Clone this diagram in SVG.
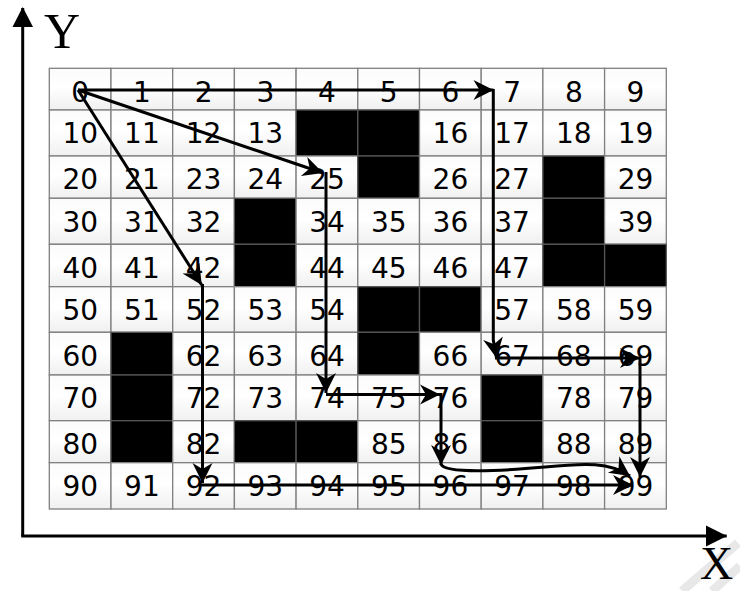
<svg xmlns="http://www.w3.org/2000/svg" width="740" height="591" viewBox="0 0 740 591">
<style>
.c{fill:url(#g);stroke:#808080;stroke-width:1.3}
.b{fill:#000;stroke:#555;stroke-width:1.3}
text{font-family:"DejaVu Sans","Liberation Sans",sans-serif;font-size:28px;fill:#000;text-anchor:middle}
.ax{stroke:#000;stroke-width:3;fill:none}
.ar{stroke:#000;stroke-width:3;fill:none;marker-end:url(#m)}
.lbl{font-family:"Liberation Serif","Times New Roman",serif;font-size:50px;text-anchor:start}
</style>
<defs>
<linearGradient id="g" x1="0" y1="0" x2="0" y2="1">
<stop offset="0" stop-color="#fbfbfb"/>
<stop offset="0.45" stop-color="#ffffff"/>
<stop offset="1" stop-color="#f0f0f0"/>
</linearGradient>
<marker id="m" viewBox="-21 -11 22 22" refX="0" refY="0" markerWidth="22" markerHeight="22" markerUnits="userSpaceOnUse" orient="auto">
<path d="M0,0 L-20,-10 L-14,0 L-20,10 Z" fill="#000"/>
</marker>
</defs>
<rect width="740" height="591" fill="#fff"/>
<g id="watermark" stroke="#e8e8e8" stroke-width="9" fill="none">
<path d="M682,591 L738,543"/>
<path d="M712,591 L740,566"/>
</g>
<g id="axes">
<path class="ax" d="M22.7,536 L22.7,8"/>
<path class="ax" d="M21.2,536 L726.7,536"/>
<path d="M22.7,7 L12.5,27 L33,27 Z" fill="#000"/>
<path d="M727,536 L706,525.5 L706,546.5 Z" fill="#000"/>
<text class="lbl" x="44" y="48">Y</text>
<text class="lbl" x="700" y="579" style="font-size:46px">X</text>
</g>
<g id="grid">
<g id="r0c0"><rect class="c" x="49.3" y="68.3" width="61.7" height="41.7"/><text x="80.2" y="101.6">0</text></g>
<g id="r0c1"><rect class="c" x="111" y="68.3" width="61.7" height="41.7"/><text x="141.9" y="101.6">1</text></g>
<g id="r0c2"><rect class="c" x="172.7" y="68.3" width="61.7" height="41.7"/><text x="203.6" y="101.6">2</text></g>
<g id="r0c3"><rect class="c" x="234.4" y="68.3" width="61.7" height="41.7"/><text x="265.3" y="101.6">3</text></g>
<g id="r0c4"><rect class="c" x="296.1" y="68.3" width="61.7" height="41.7"/><text x="327" y="101.6">4</text></g>
<g id="r0c5"><rect class="c" x="357.8" y="68.3" width="61.7" height="41.7"/><text x="388.7" y="101.6">5</text></g>
<g id="r0c6"><rect class="c" x="419.5" y="68.3" width="61.7" height="41.7"/><text x="450.4" y="101.6">6</text></g>
<g id="r0c7"><rect class="c" x="481.2" y="68.3" width="61.7" height="41.7"/><text x="512.1" y="101.6">7</text></g>
<g id="r0c8"><rect class="c" x="542.9" y="68.3" width="61.7" height="41.7"/><text x="573.8" y="101.6">8</text></g>
<g id="r0c9"><rect class="c" x="604.6" y="68.3" width="61.7" height="41.7"/><text x="635.5" y="101.6">9</text></g>

<g id="r1c0"><rect class="c" x="49.3" y="110" width="61.7" height="46"/><text x="80.2" y="143.3">10</text></g>
<g id="r1c1"><rect class="c" x="111" y="110" width="61.7" height="46"/><text x="141.9" y="143.3">11</text></g>
<g id="r1c2"><rect class="c" x="172.7" y="110" width="61.7" height="46"/><text x="203.6" y="143.3">12</text></g>
<g id="r1c3"><rect class="c" x="234.4" y="110" width="61.7" height="46"/><text x="265.3" y="143.3">13</text></g>
<g id="r1c4"><rect class="b" x="296.1" y="110" width="61.7" height="46"/></g>
<g id="r1c5"><rect class="b" x="357.8" y="110" width="61.7" height="46"/></g>
<g id="r1c6"><rect class="c" x="419.5" y="110" width="61.7" height="46"/><text x="450.4" y="143.3">16</text></g>
<g id="r1c7"><rect class="c" x="481.2" y="110" width="61.7" height="46"/><text x="512.1" y="143.3">17</text></g>
<g id="r1c8"><rect class="c" x="542.9" y="110" width="61.7" height="46"/><text x="573.8" y="143.3">18</text></g>
<g id="r1c9"><rect class="c" x="604.6" y="110" width="61.7" height="46"/><text x="635.5" y="143.3">19</text></g>

<g id="r2c0"><rect class="c" x="49.3" y="156" width="61.7" height="42.3"/><text x="80.2" y="189.3">20</text></g>
<g id="r2c1"><rect class="c" x="111" y="156" width="61.7" height="42.3"/><text x="141.9" y="189.3">21</text></g>
<g id="r2c2"><rect class="c" x="172.7" y="156" width="61.7" height="42.3"/><text x="203.6" y="189.3">23</text></g>
<g id="r2c3"><rect class="c" x="234.4" y="156" width="61.7" height="42.3"/><text x="265.3" y="189.3">24</text></g>
<g id="r2c4"><rect class="c" x="296.1" y="156" width="61.7" height="42.3"/><text x="327" y="189.3">25</text></g>
<g id="r2c5"><rect class="b" x="357.8" y="156" width="61.7" height="42.3"/></g>
<g id="r2c6"><rect class="c" x="419.5" y="156" width="61.7" height="42.3"/><text x="450.4" y="189.3">26</text></g>
<g id="r2c7"><rect class="c" x="481.2" y="156" width="61.7" height="42.3"/><text x="512.1" y="189.3">27</text></g>
<g id="r2c8"><rect class="b" x="542.9" y="156" width="61.7" height="42.3"/></g>
<g id="r2c9"><rect class="c" x="604.6" y="156" width="61.7" height="42.3"/><text x="635.5" y="189.3">29</text></g>

<g id="r3c0"><rect class="c" x="49.3" y="198.3" width="61.7" height="46"/><text x="80.2" y="231.6">30</text></g>
<g id="r3c1"><rect class="c" x="111" y="198.3" width="61.7" height="46"/><text x="141.9" y="231.6">31</text></g>
<g id="r3c2"><rect class="c" x="172.7" y="198.3" width="61.7" height="46"/><text x="203.6" y="231.6">32</text></g>
<g id="r3c3"><rect class="b" x="234.4" y="198.3" width="61.7" height="46"/></g>
<g id="r3c4"><rect class="c" x="296.1" y="198.3" width="61.7" height="46"/><text x="327" y="231.6">34</text></g>
<g id="r3c5"><rect class="c" x="357.8" y="198.3" width="61.7" height="46"/><text x="388.7" y="231.6">35</text></g>
<g id="r3c6"><rect class="c" x="419.5" y="198.3" width="61.7" height="46"/><text x="450.4" y="231.6">36</text></g>
<g id="r3c7"><rect class="c" x="481.2" y="198.3" width="61.7" height="46"/><text x="512.1" y="231.6">37</text></g>
<g id="r3c8"><rect class="b" x="542.9" y="198.3" width="61.7" height="46"/></g>
<g id="r3c9"><rect class="c" x="604.6" y="198.3" width="61.7" height="46"/><text x="635.5" y="231.6">39</text></g>

<g id="r4c0"><rect class="c" x="49.3" y="244.3" width="61.7" height="42.4"/><text x="80.2" y="277.6">40</text></g>
<g id="r4c1"><rect class="c" x="111" y="244.3" width="61.7" height="42.4"/><text x="141.9" y="277.6">41</text></g>
<g id="r4c2"><rect class="c" x="172.7" y="244.3" width="61.7" height="42.4"/><text x="203.6" y="277.6">42</text></g>
<g id="r4c3"><rect class="b" x="234.4" y="244.3" width="61.7" height="42.4"/></g>
<g id="r4c4"><rect class="c" x="296.1" y="244.3" width="61.7" height="42.4"/><text x="327" y="277.6">44</text></g>
<g id="r4c5"><rect class="c" x="357.8" y="244.3" width="61.7" height="42.4"/><text x="388.7" y="277.6">45</text></g>
<g id="r4c6"><rect class="c" x="419.5" y="244.3" width="61.7" height="42.4"/><text x="450.4" y="277.6">46</text></g>
<g id="r4c7"><rect class="c" x="481.2" y="244.3" width="61.7" height="42.4"/><text x="512.1" y="277.6">47</text></g>
<g id="r4c8"><rect class="b" x="542.9" y="244.3" width="61.7" height="42.4"/></g>
<g id="r4c9"><rect class="b" x="604.6" y="244.3" width="61.7" height="42.4"/></g>

<g id="r5c0"><rect class="c" x="49.3" y="286.7" width="61.7" height="45.6"/><text x="80.2" y="320">50</text></g>
<g id="r5c1"><rect class="c" x="111" y="286.7" width="61.7" height="45.6"/><text x="141.9" y="320">51</text></g>
<g id="r5c2"><rect class="c" x="172.7" y="286.7" width="61.7" height="45.6"/><text x="203.6" y="320">52</text></g>
<g id="r5c3"><rect class="c" x="234.4" y="286.7" width="61.7" height="45.6"/><text x="265.3" y="320">53</text></g>
<g id="r5c4"><rect class="c" x="296.1" y="286.7" width="61.7" height="45.6"/><text x="327" y="320">54</text></g>
<g id="r5c5"><rect class="b" x="357.8" y="286.7" width="61.7" height="45.6"/></g>
<g id="r5c6"><rect class="b" x="419.5" y="286.7" width="61.7" height="45.6"/></g>
<g id="r5c7"><rect class="c" x="481.2" y="286.7" width="61.7" height="45.6"/><text x="512.1" y="320">57</text></g>
<g id="r5c8"><rect class="c" x="542.9" y="286.7" width="61.7" height="45.6"/><text x="573.8" y="320">58</text></g>
<g id="r5c9"><rect class="c" x="604.6" y="286.7" width="61.7" height="45.6"/><text x="635.5" y="320">59</text></g>

<g id="r6c0"><rect class="c" x="49.3" y="332.3" width="61.7" height="42.7"/><text x="80.2" y="365.6">60</text></g>
<g id="r6c1"><rect class="b" x="111" y="332.3" width="61.7" height="42.7"/></g>
<g id="r6c2"><rect class="c" x="172.7" y="332.3" width="61.7" height="42.7"/><text x="203.6" y="365.6">62</text></g>
<g id="r6c3"><rect class="c" x="234.4" y="332.3" width="61.7" height="42.7"/><text x="265.3" y="365.6">63</text></g>
<g id="r6c4"><rect class="c" x="296.1" y="332.3" width="61.7" height="42.7"/><text x="327" y="365.6">64</text></g>
<g id="r6c5"><rect class="b" x="357.8" y="332.3" width="61.7" height="42.7"/></g>
<g id="r6c6"><rect class="c" x="419.5" y="332.3" width="61.7" height="42.7"/><text x="450.4" y="365.6">66</text></g>
<g id="r6c7"><rect class="c" x="481.2" y="332.3" width="61.7" height="42.7"/><text x="512.1" y="365.6">67</text></g>
<g id="r6c8"><rect class="c" x="542.9" y="332.3" width="61.7" height="42.7"/><text x="573.8" y="365.6">68</text></g>
<g id="r6c9"><rect class="c" x="604.6" y="332.3" width="61.7" height="42.7"/><text x="635.5" y="365.6">69</text></g>

<g id="r7c0"><rect class="c" x="49.3" y="375" width="61.7" height="45.7"/><text x="80.2" y="408.3">70</text></g>
<g id="r7c1"><rect class="b" x="111" y="375" width="61.7" height="45.7"/></g>
<g id="r7c2"><rect class="c" x="172.7" y="375" width="61.7" height="45.7"/><text x="203.6" y="408.3">72</text></g>
<g id="r7c3"><rect class="c" x="234.4" y="375" width="61.7" height="45.7"/><text x="265.3" y="408.3">73</text></g>
<g id="r7c4"><rect class="c" x="296.1" y="375" width="61.7" height="45.7"/><text x="327" y="408.3">74</text></g>
<g id="r7c5"><rect class="c" x="357.8" y="375" width="61.7" height="45.7"/><text x="388.7" y="408.3">75</text></g>
<g id="r7c6"><rect class="c" x="419.5" y="375" width="61.7" height="45.7"/><text x="450.4" y="408.3">76</text></g>
<g id="r7c7"><rect class="b" x="481.2" y="375" width="61.7" height="45.7"/></g>
<g id="r7c8"><rect class="c" x="542.9" y="375" width="61.7" height="45.7"/><text x="573.8" y="408.3">78</text></g>
<g id="r7c9"><rect class="c" x="604.6" y="375" width="61.7" height="45.7"/><text x="635.5" y="408.3">79</text></g>

<g id="r8c0"><rect class="c" x="49.3" y="420.7" width="61.7" height="42"/><text x="80.2" y="454">80</text></g>
<g id="r8c1"><rect class="b" x="111" y="420.7" width="61.7" height="42"/></g>
<g id="r8c2"><rect class="c" x="172.7" y="420.7" width="61.7" height="42"/><text x="203.6" y="454">82</text></g>
<g id="r8c3"><rect class="b" x="234.4" y="420.7" width="61.7" height="42"/></g>
<g id="r8c4"><rect class="b" x="296.1" y="420.7" width="61.7" height="42"/></g>
<g id="r8c5"><rect class="c" x="357.8" y="420.7" width="61.7" height="42"/><text x="388.7" y="454">85</text></g>
<g id="r8c6"><rect class="c" x="419.5" y="420.7" width="61.7" height="42"/><text x="450.4" y="454">86</text></g>
<g id="r8c7"><rect class="b" x="481.2" y="420.7" width="61.7" height="42"/></g>
<g id="r8c8"><rect class="c" x="542.9" y="420.7" width="61.7" height="42"/><text x="573.8" y="454">88</text></g>
<g id="r8c9"><rect class="c" x="604.6" y="420.7" width="61.7" height="42"/><text x="635.5" y="454">89</text></g>

<g id="r9c0"><rect class="c" x="49.3" y="462.7" width="61.7" height="46.3"/><text x="80.2" y="496">90</text></g>
<g id="r9c1"><rect class="c" x="111" y="462.7" width="61.7" height="46.3"/><text x="141.9" y="496">91</text></g>
<g id="r9c2"><rect class="c" x="172.7" y="462.7" width="61.7" height="46.3"/><text x="203.6" y="496">92</text></g>
<g id="r9c3"><rect class="c" x="234.4" y="462.7" width="61.7" height="46.3"/><text x="265.3" y="496">93</text></g>
<g id="r9c4"><rect class="c" x="296.1" y="462.7" width="61.7" height="46.3"/><text x="327" y="496">94</text></g>
<g id="r9c5"><rect class="c" x="357.8" y="462.7" width="61.7" height="46.3"/><text x="388.7" y="496">95</text></g>
<g id="r9c6"><rect class="c" x="419.5" y="462.7" width="61.7" height="46.3"/><text x="450.4" y="496">96</text></g>
<g id="r9c7"><rect class="c" x="481.2" y="462.7" width="61.7" height="46.3"/><text x="512.1" y="496">97</text></g>
<g id="r9c8"><rect class="c" x="542.9" y="462.7" width="61.7" height="46.3"/><text x="573.8" y="496">98</text></g>
<g id="r9c9"><rect class="c" x="604.6" y="462.7" width="61.7" height="46.3"/><text x="635.5" y="496">99</text></g>
</g>
<g id="connectors">
<path class="ar" d="M78,90 L493.5,90"/>
<path class="ar" d="M493.3,89 L493.3,340 L496.5,358"/>
<path class="ar" d="M495,358 L640,358"/>
<path class="ar" d="M640,357 L640,477"/>
<path class="ar" d="M78,90 L323,173"/>
<path class="ar" d="M326,172 L326,393"/>
<path class="ar" d="M326,394.5 L440,394.5"/>
<path class="ar" d="M441,393 L441,465"/>
<path class="ar" d="M441,464 C444,474 500,471 545,467 C585,463 610,462 630,476"/>
<path class="ar" d="M78,90 L201.7,285"/>
<path class="ar" d="M202.5,284 L202.5,483"/>
<path class="ar" d="M201,485 L633,485"/>
</g>
</svg>
